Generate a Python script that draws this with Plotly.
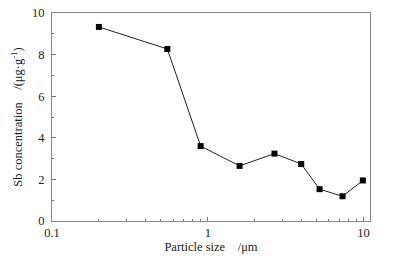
import plotly.graph_objects as go

particle_size = [0.2, 0.55, 0.9, 1.6, 2.68, 3.98, 5.22, 7.33, 9.9]
sb_conc = [9.33, 8.27, 3.6, 2.65, 3.24, 2.74, 1.53, 1.19, 1.95]

x_major = [0.1, 1, 10]
x_minor = [0.2, 0.3, 0.4, 0.5, 0.6, 0.7, 0.8, 0.9, 2, 3, 4, 5, 6, 7, 8, 9]
y_major = [0, 2, 4, 6, 8, 10]

font = dict(family="Liberation Serif, Times New Roman, serif", size=12.5, color="#222")
gap = "\u00a0\u00a0\u00a0\u00a0"

fig = go.Figure(go.Scatter(
    x=particle_size, y=sb_conc, mode="lines+markers",
    line=dict(color="#222", width=1),
    marker=dict(symbol="square", size=6, color="#000"),
))

fig.update_layout(
    width=396, height=258,
    margin=dict(l=52, r=26, t=13, b=37, autoexpand=False),
    paper_bgcolor="white", plot_bgcolor="white",
    showlegend=False, font=font,
    xaxis=dict(
        type="log", range=[-1, 1.0414], automargin=False,
        tickmode="array", tickvals=x_major, ticktext=["0.1", "1", "10"],
        ticks="inside", ticklen=4, tickcolor="#777", tickwidth=1,
        minor=dict(tickmode="array", tickvals=x_minor, ticks="inside", ticklen=2, tickcolor="#777"),
        showline=True, linecolor="#888", linewidth=1, mirror=True,
        showgrid=False, zeroline=False,
        title=dict(text="Particle size" + gap + "/μm", standoff=3, font=font),
        tickfont=font,
    ),
    yaxis=dict(
        range=[0, 10], automargin=False,
        tickmode="array", tickvals=y_major,
        ticks="inside", ticklen=4, tickcolor="#777", tickwidth=1,
        ticklabelstandoff=4,
        minor=dict(dtick=1, ticks="inside", ticklen=2, tickcolor="#777"),
        showline=True, linecolor="#888", linewidth=1, mirror=True,
        showgrid=False, zeroline=False,
        title=dict(text="Sb concentration" + gap + "/(μg·g<sup>-1</sup>)", standoff=6, font=font),
        tickfont=font,
    ),
)

fig.write_html("out.html", config={"displayModeBar": False},
               post_script="document.body.style.margin='0';")
